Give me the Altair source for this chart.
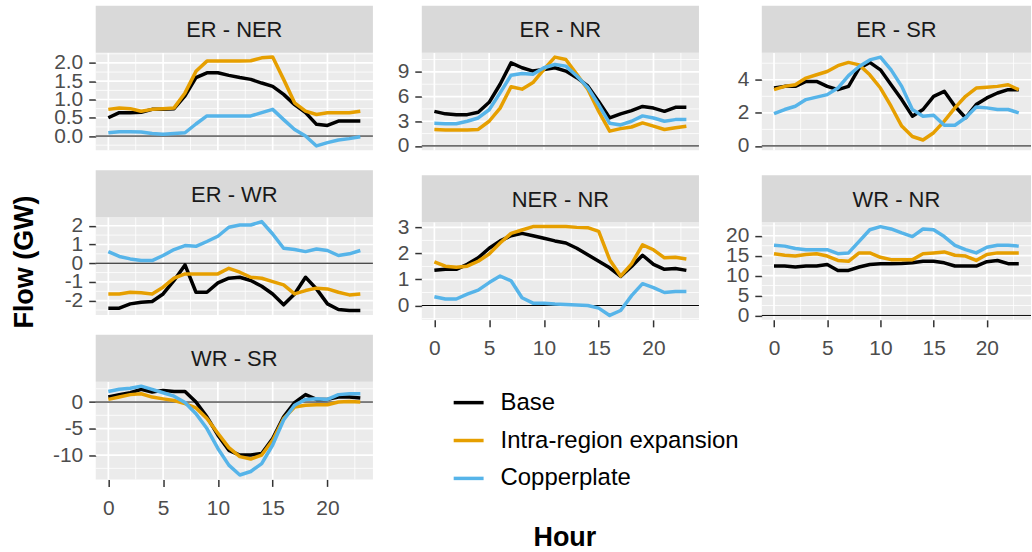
import altair as alt
import pandas as pd

FONT = "Liberation Sans"
HOURS = list(range(24))
SCENARIOS = ["Base", "Intra-region expansion", "Copperplate"]
COLORS = ["#000000", "#E69F00", "#56B4E9"]

# ---- data (GW) ----
er_ner_base = [0.50, 0.64, 0.64, 0.65, 0.73, 0.73, 0.75, 1.10, 1.60, 1.73, 1.73, 1.66, 1.60, 1.55, 1.45, 1.36, 1.14, 0.86, 0.64, 0.32, 0.29, 0.41, 0.41, 0.41]
er_ner_intra = [0.73, 0.77, 0.75, 0.68, 0.73, 0.75, 0.77, 1.18, 1.77, 2.05, 2.05, 2.05, 2.05, 2.06, 2.14, 2.16, 1.55, 0.91, 0.68, 0.59, 0.64, 0.64, 0.64, 0.68]
er_ner_copper = [0.09, 0.12, 0.12, 0.11, 0.07, 0.05, 0.07, 0.09, 0.33, 0.55, 0.55, 0.55, 0.55, 0.55, 0.64, 0.73, 0.45, 0.18, 0.00, -0.27, -0.18, -0.11, -0.07, -0.02]

er_nr_base = [4.2, 3.9, 3.8, 3.8, 4.1, 5.3, 7.5, 10.1, 9.5, 9.1, 9.3, 9.5, 9.1, 8.3, 7.3, 5.4, 3.4, 3.9, 4.3, 4.8, 4.6, 4.2, 4.7, 4.7]
er_nr_intra = [2.0, 1.95, 1.95, 1.95, 2.0, 3.0, 4.6, 7.2, 6.9, 7.7, 9.3, 10.8, 10.5, 8.7, 6.9, 4.2, 1.8, 2.1, 2.3, 2.8, 2.4, 2.0, 2.2, 2.4]
er_nr_copper = [2.75, 2.7, 2.7, 3.0, 3.4, 4.4, 6.45, 8.6, 8.8, 8.7, 9.5, 9.9, 9.7, 8.5, 7.1, 5.0, 2.75, 2.55, 3.0, 3.65, 3.4, 3.0, 3.2, 3.2]

er_sr_base = [3.5, 3.6, 3.6, 3.9, 3.9, 3.6, 3.4, 3.6, 4.7, 5.05, 4.6, 3.7, 2.8, 1.8, 2.2, 3.0, 3.3, 2.4, 1.7, 2.5, 2.9, 3.2, 3.4, 3.4]
er_sr_intra = [3.4, 3.6, 3.7, 4.1, 4.3, 4.5, 4.85, 5.05, 4.9, 4.3, 3.5, 2.4, 1.2, 0.57, 0.36, 0.8, 1.5, 2.3, 3.0, 3.5, 3.55, 3.6, 3.7, 3.4]
er_sr_copper = [1.95, 2.2, 2.4, 2.8, 2.95, 3.1, 3.5, 4.25, 4.8, 5.2, 5.37, 4.6, 3.6, 2.2, 1.8, 1.85, 1.25, 1.25, 1.7, 2.35, 2.3, 2.2, 2.2, 2.0]

er_wr_base = [-2.4, -2.4, -2.17, -2.08, -2.04, -1.64, -0.92, -0.09, -1.55, -1.55, -1.05, -0.8, -0.75, -0.92, -1.23, -1.64, -2.22, -1.64, -0.75, -1.37, -2.17, -2.47, -2.52, -2.52]
er_wr_intra = [-1.64, -1.64, -1.55, -1.58, -1.64, -1.28, -0.8, -0.57, -0.57, -0.57, -0.57, -0.27, -0.48, -0.75, -0.8, -0.98, -1.16, -1.64, -1.46, -1.33, -1.37, -1.55, -1.69, -1.64]
er_wr_copper = [0.62, 0.36, 0.23, 0.14, 0.14, 0.41, 0.73, 0.94, 0.9, 1.16, 1.44, 1.92, 2.04, 2.04, 2.22, 1.56, 0.8, 0.73, 0.62, 0.76, 0.68, 0.41, 0.5, 0.68]

ner_nr_base = [1.35, 1.39, 1.39, 1.58, 1.83, 2.2, 2.48, 2.68, 2.77, 2.68, 2.58, 2.48, 2.4, 2.2, 1.95, 1.7, 1.45, 1.12, 1.5, 1.93, 1.58, 1.39, 1.42, 1.35]
ner_nr_intra = [1.68, 1.51, 1.47, 1.51, 1.7, 1.98, 2.4, 2.77, 2.9, 3.03, 3.03, 3.03, 3.03, 3.0, 2.99, 2.85, 1.76, 1.13, 1.6, 2.33, 2.14, 1.83, 1.85, 1.79]
ner_nr_copper = [0.34, 0.25, 0.25, 0.44, 0.59, 0.88, 1.13, 0.95, 0.3, 0.09, 0.09, 0.06, 0.04, 0.02, 0.0, -0.1, -0.38, -0.19, 0.38, 0.84, 0.69, 0.5, 0.54, 0.54]

wr_nr_base = [12.4, 12.4, 12.15, 12.4, 12.4, 12.8, 11.3, 11.3, 12.15, 12.8, 13.0, 13.0, 13.05, 13.2, 13.6, 13.6, 13.2, 12.4, 12.4, 12.4, 13.5, 13.8, 13.0, 13.0]
wr_nr_intra = [15.5, 15.1, 14.9, 15.3, 15.5, 14.9, 13.8, 13.6, 15.7, 15.7, 14.6, 14.0, 14.0, 14.0, 15.5, 15.7, 15.95, 15.1, 14.9, 13.8, 15.3, 15.7, 15.7, 15.7]
wr_nr_copper = [17.6, 17.4, 16.8, 16.5, 16.5, 16.5, 15.5, 15.7, 18.6, 21.5, 22.3, 21.7, 20.7, 19.8, 21.7, 21.5, 19.8, 17.6, 16.5, 15.7, 17.1, 17.6, 17.6, 17.4]

wr_sr_base = [0.94, 1.4, 1.75, 2.4, 1.9, 2.2, 2.0, 2.0, 0.0, -2.8, -6.25, -9.1, -10.0, -10.0, -9.7, -6.9, -2.8, -0.1, 1.4, 0.5, 0.5, 0.94, 0.94, 0.75]
wr_sr_intra = [0.5, 0.94, 1.4, 1.56, 0.94, 0.6, 0.3, -0.3, -1.1, -3.1, -5.9, -8.6, -10.3, -10.75, -10.0, -7.2, -3.1, -0.94, -0.6, -0.5, -0.5, 0.0, 0.1, 0.0]
wr_sr_copper = [2.0, 2.4, 2.6, 3.0, 2.4, 1.75, 1.1, -0.1, -2.2, -5.0, -8.75, -11.9, -13.75, -13.1, -11.6, -8.1, -3.4, -0.6, 0.5, 0.6, 0.5, 1.4, 1.56, 1.56]

X_TICKS = [0, 5, 10, 15, 20]
Y_TICKS = {
    "ER - NER": [0.0, 0.5, 1.0, 1.5, 2.0],
    "ER - NR": [0, 3, 6, 9],
    "ER - SR": [0, 2, 4],
    "ER - WR": [-2, -1, 0, 1, 2],
    "NER - NR": [0, 1, 2, 3],
    "WR - NR": [0, 5, 10, 15, 20],
    "WR - SR": [-10, -5, 0],
}
Y_TITLE = "Flow (GW)"
X_TITLE = "Hour"

W = 278
W3 = 270
H = 98
STRIP = 47
TW = 27


def expand(vals, mult=0.05):
    lo, hi = min(vals), max(vals)
    r = hi - lo
    return [lo - mult * r, hi + mult * r]


def minors(ticks, dom):
    step = ticks[1] - ticks[0]
    ext = [ticks[0] - step] + list(ticks) + [ticks[-1] + step]
    mids = [(a + b) / 2 for a, b in zip(ext[:-1], ext[1:])]
    return [m for m in mids if dom[0] <= m <= dom[1]]


LEGEND = alt.Legend(
    title=None, orient="none", legendX=441, legendY=334,
    symbolType="stroke", symbolStrokeWidth=3.5, symbolSize=900,
    labelFontSize=24, labelFont=FONT, labelColor="#000000", labelLimit=0,
    labelOffset=15, rowPadding=9, padding=0,
)

MINUS = "replace(datum.label, '\u2212', '-')"


def panel(name, series, width, show_x=False, xtitle=False, fmt="d"):
    rows = []
    for scen, vals in zip(SCENARIOS, series):
        for h, v in zip(HOURS, vals):
            rows.append({"hour": h, "flow": v, "scenario": scen})
    df = pd.DataFrame(rows)
    ydom = expand([v for s in series for v in s] + [0])
    xdom = expand(HOURS)
    xs = alt.Scale(domain=xdom, nice=False, zero=False)
    ys = alt.Scale(domain=ydom, nice=False, zero=False)
    yt = Y_TICKS[name]

    yaxis = alt.Axis(values=yt, format=fmt, title=None, labelExpr=MINUS)
    if show_x:
        if xtitle:
            xaxis = alt.Axis(values=X_TICKS, title=X_TITLE, titleX=143, titleY=226,
                             titleAlign="center", titleBaseline="alphabetic",
                             labelPadding=11)
        else:
            xaxis = alt.Axis(values=X_TICKS, title=None, labelPadding=11)
    else:
        xaxis = None

    xminor = alt.Chart(pd.DataFrame({"v": minors(X_TICKS, xdom)})).mark_rule(
        color="white", strokeWidth=0.8).encode(x=alt.X("v:Q", scale=xs, axis=xaxis))
    yminor = alt.Chart(pd.DataFrame({"v": minors(yt, ydom)})).mark_rule(
        color="white", strokeWidth=0.8).encode(y=alt.Y("v:Q", scale=ys, axis=yaxis))
    xmajor = alt.Chart(pd.DataFrame({"v": X_TICKS})).mark_rule(
        color="white", strokeWidth=1.7).encode(x=alt.X("v:Q", scale=xs, axis=xaxis))
    ymajor = alt.Chart(pd.DataFrame({"v": yt})).mark_rule(
        color="white", strokeWidth=1.7).encode(y=alt.Y("v:Q", scale=ys, axis=yaxis))
    zero = alt.Chart(pd.DataFrame({"v": [0]})).mark_rule(
        color="#000000", strokeWidth=1).encode(y=alt.Y("v:Q", scale=ys, axis=yaxis))
    lines = alt.Chart(df).mark_line(strokeWidth=3.5, strokeJoin="round").encode(
        x=alt.X("hour:Q", scale=xs, axis=xaxis),
        y=alt.Y("flow:Q", scale=ys, axis=yaxis),
        color=alt.Color("scenario:N", scale=alt.Scale(domain=SCENARIOS, range=COLORS),
                        sort=SCENARIOS, legend=LEGEND),
        order=alt.Order("hour:Q"),
    )
    sdf = pd.DataFrame({"panel": [name]})
    strip = alt.Chart(sdf).mark_rect(color="#D9D9D9").encode(
        x=alt.value(0), x2=alt.value(width), y=alt.value(-STRIP), y2=alt.value(0))
    stext = alt.Chart(sdf).mark_text(fontSize=22, font=FONT, color="#1A1A1A",
                                     baseline="middle", align="center").encode(
        text="panel:N", x=alt.value(width / 2), y=alt.value(-STRIP / 2 + 1))
    return alt.layer(xminor, yminor, xmajor, ymajor, zero, lines, strip, stext).properties(
        width=width, height=H)


# shared y-axis title as its own narrow column
tdf = pd.DataFrame({"t": [Y_TITLE]})
tpad = alt.Chart(tdf).mark_rect(color="white").encode(
    x=alt.value(0), x2=alt.value(TW), y=alt.value(-STRIP), y2=alt.value(-STRIP + 1))
ttext = alt.Chart(tdf).mark_text(angle=270, fontSize=27, fontWeight="bold", font=FONT,
                                 color="#000000", align="center", baseline="middle").encode(
    text="t:N", x=alt.value(TW / 2), y=alt.value(210))
ytitle_col = alt.layer(tpad, ttext).properties(
    width=TW, height=H, view=alt.ViewBackground(fill="white", stroke=None))

p1 = panel("ER - NER", [er_ner_base, er_ner_intra, er_ner_copper], W, fmt=".1f")
p2 = panel("ER - NR", [er_nr_base, er_nr_intra, er_nr_copper], W)
p3 = panel("ER - SR", [er_sr_base, er_sr_intra, er_sr_copper], W3)
p4 = panel("ER - WR", [er_wr_base, er_wr_intra, er_wr_copper], W)
p5 = panel("NER - NR", [ner_nr_base, ner_nr_intra, ner_nr_copper], W, show_x=True, xtitle=True)
p6 = panel("WR - NR", [wr_nr_base, wr_nr_intra, wr_nr_copper], W3, show_x=True)
p7 = panel("WR - SR", [wr_sr_base, wr_sr_intra, wr_sr_copper], W, show_x=True)

col1 = alt.vconcat(p1, p4, p7, spacing=19)
col2 = alt.vconcat(p2, p5, spacing=19)
col3 = alt.vconcat(p3, p6, spacing=19)

left = alt.hconcat(col1, col2, spacing=23)
panels = alt.hconcat(left, col3, spacing=25)

chart = alt.hconcat(ytitle_col, panels, spacing=13).properties(
    padding={"left": 11, "top": 5, "right": 0, "bottom": 0},
    background="white",
).configure_view(
    fill="#EBEBEB", stroke=None,
).configure_axis(
    labelFont=FONT, labelFontSize=21, labelColor="#4D4D4D", labelOverlap=False,
    tickColor="#333333", tickSize=7, tickWidth=1.5, domain=False, grid=False,
    labelPadding=6, titleFont=FONT, titleFontWeight="bold", titleFontSize=27,
    titleColor="#000000",
)

chart.save("out.html", embed_options={"renderer": "svg", "actions": False})
